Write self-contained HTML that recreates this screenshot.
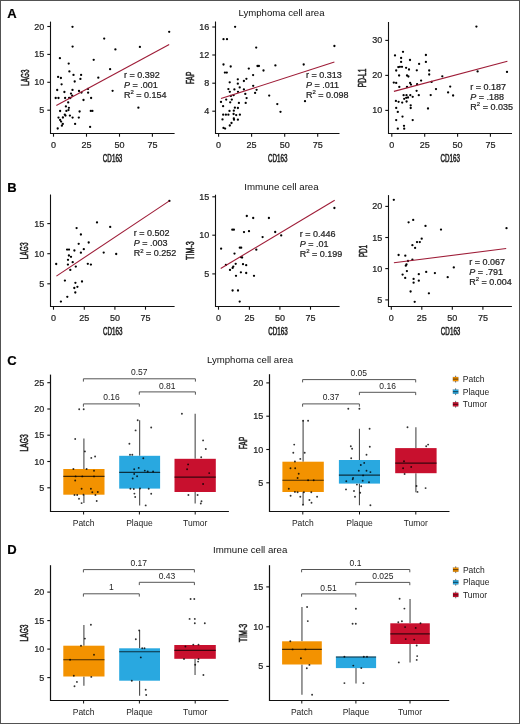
<!DOCTYPE html><html><head><meta charset="utf-8"><style>html,body{margin:0;padding:0;background:#fff;}svg{display:block;will-change:transform;}</style></head><body>
<svg width="520" height="724" viewBox="0 0 520 724" font-family='"Liberation Sans", sans-serif'>
<style>text{stroke:#222;stroke-width:0.22px;paint-order:stroke;}text.l{stroke:none;}</style>
<rect x="0" y="0" width="520" height="724" fill="#fff"/>
<rect x="0.5" y="0.5" width="519" height="723" fill="none" stroke="#525252" stroke-width="1"/>
<text x="7.2" y="17.7" font-size="13" text-anchor="start" fill="#000" font-weight="bold" >A</text>
<text x="7.2" y="191.5" font-size="13" text-anchor="start" fill="#000" font-weight="bold" >B</text>
<text x="7.2" y="364.5" font-size="13" text-anchor="start" fill="#000" font-weight="bold" >C</text>
<text x="7.2" y="554.4" font-size="13" text-anchor="start" fill="#000" font-weight="bold" >D</text>
<text x="281.5" y="16" font-size="9.6" text-anchor="middle" fill="#111" font-weight="normal" class="l" >Lymphoma cell area</text>
<text x="281.5" y="189.7" font-size="9.7" text-anchor="middle" fill="#111" font-weight="normal" class="l" >Immune cell area</text>
<text x="250" y="362.5" font-size="9.6" text-anchor="middle" fill="#111" font-weight="normal" class="l" >Lymphoma cell area</text>
<text x="250.2" y="552.7" font-size="9.7" text-anchor="middle" fill="#111" font-weight="normal" class="l" >Immune cell area</text>
<line x1="50.5" y1="21.6" x2="50.5" y2="134" stroke="#111" stroke-width="1.1" />
<line x1="50" y1="133.5" x2="174.6" y2="133.5" stroke="#111" stroke-width="1.1" />
<line x1="47.3" y1="26.5" x2="50.5" y2="26.5" stroke="#111" stroke-width="1.1" />
<text x="44.3" y="29.5" font-size="9" text-anchor="end" fill="#222" font-weight="normal" >20</text>
<line x1="47.3" y1="54.4" x2="50.5" y2="54.4" stroke="#111" stroke-width="1.1" />
<text x="44.3" y="57.4" font-size="9" text-anchor="end" fill="#222" font-weight="normal" >15</text>
<line x1="47.3" y1="82.3" x2="50.5" y2="82.3" stroke="#111" stroke-width="1.1" />
<text x="44.3" y="85.3" font-size="9" text-anchor="end" fill="#222" font-weight="normal" >10</text>
<line x1="47.3" y1="110.2" x2="50.5" y2="110.2" stroke="#111" stroke-width="1.1" />
<text x="44.3" y="113.2" font-size="9" text-anchor="end" fill="#222" font-weight="normal" >5</text>
<line x1="53.5" y1="133.5" x2="53.5" y2="136.7" stroke="#111" stroke-width="1.1" />
<text x="53.5" y="147.7" font-size="9" text-anchor="middle" fill="#222" font-weight="normal" >0</text>
<line x1="86.5" y1="133.5" x2="86.5" y2="136.7" stroke="#111" stroke-width="1.1" />
<text x="86.5" y="147.7" font-size="9" text-anchor="middle" fill="#222" font-weight="normal" >25</text>
<line x1="119.5" y1="133.5" x2="119.5" y2="136.7" stroke="#111" stroke-width="1.1" />
<text x="119.5" y="147.7" font-size="9" text-anchor="middle" fill="#222" font-weight="normal" >50</text>
<line x1="152.4" y1="133.5" x2="152.4" y2="136.7" stroke="#111" stroke-width="1.1" />
<text x="152.4" y="147.7" font-size="9" text-anchor="middle" fill="#222" font-weight="normal" >75</text>
<circle cx="72.5" cy="26.8" r="1.15" fill="#000"/>
<circle cx="104.2" cy="38.6" r="1.15" fill="#000"/>
<circle cx="72.6" cy="46.6" r="1.15" fill="#000"/>
<circle cx="59.9" cy="58.2" r="1.15" fill="#000"/>
<circle cx="93.7" cy="59.8" r="1.15" fill="#000"/>
<circle cx="68.7" cy="63.6" r="1.15" fill="#000"/>
<circle cx="69.4" cy="71.4" r="1.15" fill="#000"/>
<circle cx="110.1" cy="69.2" r="1.15" fill="#000"/>
<circle cx="73.5" cy="74.9" r="1.15" fill="#000"/>
<circle cx="81.1" cy="74.9" r="1.15" fill="#000"/>
<circle cx="58.1" cy="76.9" r="1.15" fill="#000"/>
<circle cx="60.9" cy="78" r="1.15" fill="#000"/>
<circle cx="80.4" cy="78.9" r="1.15" fill="#000"/>
<circle cx="98.3" cy="77.7" r="1.15" fill="#000"/>
<circle cx="74.7" cy="81.5" r="1.15" fill="#000"/>
<circle cx="61.6" cy="84.3" r="1.15" fill="#000"/>
<circle cx="57.2" cy="90" r="1.15" fill="#000"/>
<circle cx="72.5" cy="89.9" r="1.15" fill="#000"/>
<circle cx="64.4" cy="92" r="1.15" fill="#000"/>
<circle cx="79" cy="91" r="1.15" fill="#000"/>
<circle cx="81.5" cy="92.6" r="1.15" fill="#000"/>
<circle cx="88" cy="88.9" r="1.15" fill="#000"/>
<circle cx="88.1" cy="92.7" r="1.15" fill="#000"/>
<circle cx="112.6" cy="90.8" r="1.15" fill="#000"/>
<circle cx="71" cy="93.6" r="1.15" fill="#000"/>
<circle cx="72.2" cy="95.7" r="1.15" fill="#000"/>
<circle cx="55.7" cy="98" r="1.15" fill="#000"/>
<circle cx="58.5" cy="98" r="1.15" fill="#000"/>
<circle cx="65.1" cy="98" r="1.15" fill="#000"/>
<circle cx="69.1" cy="98" r="1.15" fill="#000"/>
<circle cx="70.3" cy="98" r="1.15" fill="#000"/>
<circle cx="91.1" cy="98" r="1.15" fill="#000"/>
<circle cx="68.2" cy="102.4" r="1.15" fill="#000"/>
<circle cx="83.5" cy="100" r="1.15" fill="#000"/>
<circle cx="65.9" cy="106.4" r="1.15" fill="#000"/>
<circle cx="68.9" cy="107.8" r="1.15" fill="#000"/>
<circle cx="60.1" cy="111" r="1.15" fill="#000"/>
<circle cx="66.4" cy="110.9" r="1.15" fill="#000"/>
<circle cx="68.5" cy="110.1" r="1.15" fill="#000"/>
<circle cx="79.6" cy="111.5" r="1.15" fill="#000"/>
<circle cx="90.8" cy="110.9" r="1.15" fill="#000"/>
<circle cx="92.4" cy="110.9" r="1.15" fill="#000"/>
<circle cx="64.8" cy="114.6" r="1.15" fill="#000"/>
<circle cx="65.5" cy="115.6" r="1.15" fill="#000"/>
<circle cx="69.9" cy="115.6" r="1.15" fill="#000"/>
<circle cx="62.9" cy="117.5" r="1.15" fill="#000"/>
<circle cx="72.6" cy="117.6" r="1.15" fill="#000"/>
<circle cx="78.8" cy="117.6" r="1.15" fill="#000"/>
<circle cx="58.5" cy="117.6" r="1.15" fill="#000"/>
<circle cx="60.1" cy="119.9" r="1.15" fill="#000"/>
<circle cx="61.1" cy="121.6" r="1.15" fill="#000"/>
<circle cx="62.8" cy="123.9" r="1.15" fill="#000"/>
<circle cx="61.9" cy="125.7" r="1.15" fill="#000"/>
<circle cx="75.1" cy="123.9" r="1.15" fill="#000"/>
<circle cx="90.1" cy="126.9" r="1.15" fill="#000"/>
<circle cx="57.7" cy="128.5" r="1.15" fill="#000"/>
<circle cx="169.2" cy="31.8" r="1.15" fill="#000"/>
<circle cx="115.4" cy="49.4" r="1.15" fill="#000"/>
<circle cx="139.9" cy="46.9" r="1.15" fill="#000"/>
<circle cx="138.4" cy="107.7" r="1.15" fill="#000"/>
<line x1="56.3" y1="105.4" x2="169.2" y2="44.5" stroke="#9E1C37" stroke-width="1.1" />
<text transform="translate(28.78,77.6) rotate(-90)" x="0" y="0" font-size="10.5" text-anchor="middle" fill="#222" font-weight="normal" textLength="16.1" lengthAdjust="spacingAndGlyphs" style="stroke-width:0.55px">LAG3</text>
<text x="102.85" y="161.58" font-size="10.5" fill="#222" font-weight="normal" textLength="19.5" lengthAdjust="spacingAndGlyphs" style="stroke-width:0.55px">CD163</text>
<text x="123.9" y="77.6" font-size="9" text-anchor="start" fill="#222" font-weight="normal" >r = 0.392</text>
<text x="123.9" y="87.6" font-size="9" fill="#222"><tspan font-style="italic">P</tspan> = .001</text>
<text x="123.9" y="97.6" font-size="9" fill="#222">R<tspan font-size="6" dy="-3.4">2</tspan><tspan dy="3.4"> = 0.154</tspan></text>
<line x1="215.5" y1="21.5" x2="215.5" y2="134" stroke="#111" stroke-width="1.1" />
<line x1="215" y1="133.5" x2="339.5" y2="133.5" stroke="#111" stroke-width="1.1" />
<line x1="212.3" y1="27" x2="215.5" y2="27" stroke="#111" stroke-width="1.1" />
<text x="209.3" y="30" font-size="9" text-anchor="end" fill="#222" font-weight="normal" >16</text>
<line x1="212.3" y1="55" x2="215.5" y2="55" stroke="#111" stroke-width="1.1" />
<text x="209.3" y="58" font-size="9" text-anchor="end" fill="#222" font-weight="normal" >12</text>
<line x1="212.3" y1="83.2" x2="215.5" y2="83.2" stroke="#111" stroke-width="1.1" />
<text x="209.3" y="86.2" font-size="9" text-anchor="end" fill="#222" font-weight="normal" >8</text>
<line x1="212.3" y1="111.2" x2="215.5" y2="111.2" stroke="#111" stroke-width="1.1" />
<text x="209.3" y="114.2" font-size="9" text-anchor="end" fill="#222" font-weight="normal" >4</text>
<line x1="218.6" y1="133.5" x2="218.6" y2="136.7" stroke="#111" stroke-width="1.1" />
<text x="218.6" y="147.7" font-size="9" text-anchor="middle" fill="#222" font-weight="normal" >0</text>
<line x1="251.6" y1="133.5" x2="251.6" y2="136.7" stroke="#111" stroke-width="1.1" />
<text x="251.6" y="147.7" font-size="9" text-anchor="middle" fill="#222" font-weight="normal" >25</text>
<line x1="284.7" y1="133.5" x2="284.7" y2="136.7" stroke="#111" stroke-width="1.1" />
<text x="284.7" y="147.7" font-size="9" text-anchor="middle" fill="#222" font-weight="normal" >50</text>
<line x1="317.7" y1="133.5" x2="317.7" y2="136.7" stroke="#111" stroke-width="1.1" />
<text x="317.7" y="147.7" font-size="9" text-anchor="middle" fill="#222" font-weight="normal" >75</text>
<circle cx="235.1" cy="26.8" r="1.15" fill="#000"/>
<circle cx="223.5" cy="39.2" r="1.15" fill="#000"/>
<circle cx="227" cy="39.2" r="1.15" fill="#000"/>
<circle cx="256.2" cy="47.6" r="1.15" fill="#000"/>
<circle cx="223.5" cy="64.5" r="1.15" fill="#000"/>
<circle cx="230.7" cy="66.5" r="1.15" fill="#000"/>
<circle cx="257.5" cy="66" r="1.15" fill="#000"/>
<circle cx="258.9" cy="66" r="1.15" fill="#000"/>
<circle cx="224.9" cy="72.6" r="1.15" fill="#000"/>
<circle cx="226.8" cy="72.6" r="1.15" fill="#000"/>
<circle cx="248.8" cy="68.6" r="1.15" fill="#000"/>
<circle cx="263.5" cy="70.5" r="1.15" fill="#000"/>
<circle cx="253.1" cy="75.1" r="1.15" fill="#000"/>
<circle cx="237.8" cy="79.3" r="1.15" fill="#000"/>
<circle cx="246.4" cy="78.8" r="1.15" fill="#000"/>
<circle cx="243.9" cy="81" r="1.15" fill="#000"/>
<circle cx="229.7" cy="82.3" r="1.15" fill="#000"/>
<circle cx="237.8" cy="83.7" r="1.15" fill="#000"/>
<circle cx="253.2" cy="85.8" r="1.15" fill="#000"/>
<circle cx="239.7" cy="87.4" r="1.15" fill="#000"/>
<circle cx="228.4" cy="89.1" r="1.15" fill="#000"/>
<circle cx="234.4" cy="89.4" r="1.15" fill="#000"/>
<circle cx="243.9" cy="89.4" r="1.15" fill="#000"/>
<circle cx="229.8" cy="91.8" r="1.15" fill="#000"/>
<circle cx="238" cy="91.8" r="1.15" fill="#000"/>
<circle cx="256.6" cy="89.8" r="1.15" fill="#000"/>
<circle cx="255.1" cy="92.9" r="1.15" fill="#000"/>
<circle cx="245.3" cy="93.9" r="1.15" fill="#000"/>
<circle cx="233.6" cy="95.2" r="1.15" fill="#000"/>
<circle cx="230.9" cy="95.9" r="1.15" fill="#000"/>
<circle cx="269.2" cy="95.6" r="1.15" fill="#000"/>
<circle cx="246.6" cy="98.1" r="1.15" fill="#000"/>
<circle cx="226.2" cy="99.6" r="1.15" fill="#000"/>
<circle cx="231.8" cy="99.6" r="1.15" fill="#000"/>
<circle cx="221" cy="101.9" r="1.15" fill="#000"/>
<circle cx="230.2" cy="102.3" r="1.15" fill="#000"/>
<circle cx="238.9" cy="102.9" r="1.15" fill="#000"/>
<circle cx="245.7" cy="102.9" r="1.15" fill="#000"/>
<circle cx="277.3" cy="104.1" r="1.15" fill="#000"/>
<circle cx="223.1" cy="106.2" r="1.15" fill="#000"/>
<circle cx="234.9" cy="107.7" r="1.15" fill="#000"/>
<circle cx="237.9" cy="108" r="1.15" fill="#000"/>
<circle cx="229.5" cy="110.9" r="1.15" fill="#000"/>
<circle cx="233.8" cy="110.7" r="1.15" fill="#000"/>
<circle cx="280.5" cy="111.8" r="1.15" fill="#000"/>
<circle cx="223.2" cy="114.7" r="1.15" fill="#000"/>
<circle cx="225.9" cy="114.7" r="1.15" fill="#000"/>
<circle cx="228.4" cy="114.7" r="1.15" fill="#000"/>
<circle cx="233.6" cy="114" r="1.15" fill="#000"/>
<circle cx="236.2" cy="115.1" r="1.15" fill="#000"/>
<circle cx="239.9" cy="114.7" r="1.15" fill="#000"/>
<circle cx="222.5" cy="119.4" r="1.15" fill="#000"/>
<circle cx="233.8" cy="118.3" r="1.15" fill="#000"/>
<circle cx="234" cy="119.7" r="1.15" fill="#000"/>
<circle cx="237.9" cy="119.7" r="1.15" fill="#000"/>
<circle cx="231.5" cy="123" r="1.15" fill="#000"/>
<circle cx="229.8" cy="125.5" r="1.15" fill="#000"/>
<circle cx="223.5" cy="127.9" r="1.15" fill="#000"/>
<circle cx="225.1" cy="128.6" r="1.15" fill="#000"/>
<circle cx="334.4" cy="46" r="1.15" fill="#000"/>
<circle cx="275.4" cy="65.4" r="1.15" fill="#000"/>
<circle cx="303.7" cy="64.5" r="1.15" fill="#000"/>
<circle cx="305" cy="101.2" r="1.15" fill="#000"/>
<line x1="221" y1="98.6" x2="334.4" y2="62.1" stroke="#9E1C37" stroke-width="1.1" />
<text transform="translate(193.68,77.9) rotate(-90)" x="0" y="0" font-size="10.5" text-anchor="middle" fill="#222" font-weight="normal" textLength="12.4" lengthAdjust="spacingAndGlyphs" style="stroke-width:0.55px">FAP</text>
<text x="267.95" y="161.58" font-size="10.5" fill="#222" font-weight="normal" textLength="19.5" lengthAdjust="spacingAndGlyphs" style="stroke-width:0.55px">CD163</text>
<text x="306" y="77.8" font-size="9" text-anchor="start" fill="#222" font-weight="normal" >r = 0.313</text>
<text x="306" y="87.8" font-size="9" fill="#222"><tspan font-style="italic">P</tspan> = .011</text>
<text x="306" y="97.8" font-size="9" fill="#222">R<tspan font-size="6" dy="-3.4">2</tspan><tspan dy="3.4"> = 0.098</tspan></text>
<line x1="388.5" y1="22" x2="388.5" y2="134" stroke="#111" stroke-width="1.1" />
<line x1="388" y1="133.5" x2="512" y2="133.5" stroke="#111" stroke-width="1.1" />
<line x1="385.3" y1="40.4" x2="388.5" y2="40.4" stroke="#111" stroke-width="1.1" />
<text x="382.3" y="43.4" font-size="9" text-anchor="end" fill="#222" font-weight="normal" >30</text>
<line x1="385.3" y1="75.4" x2="388.5" y2="75.4" stroke="#111" stroke-width="1.1" />
<text x="382.3" y="78.4" font-size="9" text-anchor="end" fill="#222" font-weight="normal" >20</text>
<line x1="385.3" y1="110.4" x2="388.5" y2="110.4" stroke="#111" stroke-width="1.1" />
<text x="382.3" y="113.4" font-size="9" text-anchor="end" fill="#222" font-weight="normal" >10</text>
<line x1="391.8" y1="133.5" x2="391.8" y2="136.7" stroke="#111" stroke-width="1.1" />
<text x="391.8" y="147.7" font-size="9" text-anchor="middle" fill="#222" font-weight="normal" >0</text>
<line x1="424.7" y1="133.5" x2="424.7" y2="136.7" stroke="#111" stroke-width="1.1" />
<text x="424.7" y="147.7" font-size="9" text-anchor="middle" fill="#222" font-weight="normal" >25</text>
<line x1="457.6" y1="133.5" x2="457.6" y2="136.7" stroke="#111" stroke-width="1.1" />
<text x="457.6" y="147.7" font-size="9" text-anchor="middle" fill="#222" font-weight="normal" >50</text>
<line x1="490.4" y1="133.5" x2="490.4" y2="136.7" stroke="#111" stroke-width="1.1" />
<text x="490.4" y="147.7" font-size="9" text-anchor="middle" fill="#222" font-weight="normal" >75</text>
<circle cx="403" cy="51.8" r="1.15" fill="#000"/>
<circle cx="395" cy="55.4" r="1.15" fill="#000"/>
<circle cx="425.9" cy="55" r="1.15" fill="#000"/>
<circle cx="401.1" cy="58" r="1.15" fill="#000"/>
<circle cx="410" cy="60" r="1.15" fill="#000"/>
<circle cx="401.1" cy="61.9" r="1.15" fill="#000"/>
<circle cx="425.9" cy="61.9" r="1.15" fill="#000"/>
<circle cx="419.1" cy="63.9" r="1.15" fill="#000"/>
<circle cx="398.3" cy="67.1" r="1.15" fill="#000"/>
<circle cx="399.9" cy="66.8" r="1.15" fill="#000"/>
<circle cx="402" cy="66.8" r="1.15" fill="#000"/>
<circle cx="406.1" cy="67.8" r="1.15" fill="#000"/>
<circle cx="396.2" cy="70.5" r="1.15" fill="#000"/>
<circle cx="409" cy="69.5" r="1.15" fill="#000"/>
<circle cx="416.8" cy="70.3" r="1.15" fill="#000"/>
<circle cx="429.2" cy="70.5" r="1.15" fill="#000"/>
<circle cx="399.1" cy="75.5" r="1.15" fill="#000"/>
<circle cx="407" cy="75.5" r="1.15" fill="#000"/>
<circle cx="408.4" cy="76.5" r="1.15" fill="#000"/>
<circle cx="429.2" cy="74.5" r="1.15" fill="#000"/>
<circle cx="421.1" cy="80.6" r="1.15" fill="#000"/>
<circle cx="393.8" cy="82.6" r="1.15" fill="#000"/>
<circle cx="396.2" cy="82.9" r="1.15" fill="#000"/>
<circle cx="410.1" cy="83" r="1.15" fill="#000"/>
<circle cx="411" cy="84.6" r="1.15" fill="#000"/>
<circle cx="417.1" cy="84.2" r="1.15" fill="#000"/>
<circle cx="431.6" cy="81.9" r="1.15" fill="#000"/>
<circle cx="399.3" cy="86.9" r="1.15" fill="#000"/>
<circle cx="407" cy="86.9" r="1.15" fill="#000"/>
<circle cx="436" cy="89.1" r="1.15" fill="#000"/>
<circle cx="448.1" cy="92.4" r="1.15" fill="#000"/>
<circle cx="450.2" cy="86.6" r="1.15" fill="#000"/>
<circle cx="416.6" cy="90.8" r="1.15" fill="#000"/>
<circle cx="403.6" cy="95.2" r="1.15" fill="#000"/>
<circle cx="406.5" cy="95.2" r="1.15" fill="#000"/>
<circle cx="410.3" cy="95.2" r="1.15" fill="#000"/>
<circle cx="412.7" cy="96.8" r="1.15" fill="#000"/>
<circle cx="418.8" cy="95.2" r="1.15" fill="#000"/>
<circle cx="430.7" cy="95.1" r="1.15" fill="#000"/>
<circle cx="404.2" cy="98.8" r="1.15" fill="#000"/>
<circle cx="406.2" cy="97.8" r="1.15" fill="#000"/>
<circle cx="408" cy="97.5" r="1.15" fill="#000"/>
<circle cx="395.9" cy="100.9" r="1.15" fill="#000"/>
<circle cx="398.6" cy="101.8" r="1.15" fill="#000"/>
<circle cx="402.2" cy="102.6" r="1.15" fill="#000"/>
<circle cx="406.6" cy="101.5" r="1.15" fill="#000"/>
<circle cx="410.7" cy="105.3" r="1.15" fill="#000"/>
<circle cx="410.7" cy="108" r="1.15" fill="#000"/>
<circle cx="396.2" cy="107.9" r="1.15" fill="#000"/>
<circle cx="428" cy="108.5" r="1.15" fill="#000"/>
<circle cx="397.8" cy="111.9" r="1.15" fill="#000"/>
<circle cx="402.5" cy="116.6" r="1.15" fill="#000"/>
<circle cx="396.2" cy="120.1" r="1.15" fill="#000"/>
<circle cx="412.7" cy="120.1" r="1.15" fill="#000"/>
<circle cx="404" cy="125.8" r="1.15" fill="#000"/>
<circle cx="404.2" cy="128.7" r="1.15" fill="#000"/>
<circle cx="397.8" cy="128.7" r="1.15" fill="#000"/>
<circle cx="476.4" cy="26.6" r="1.15" fill="#000"/>
<circle cx="477.6" cy="71.4" r="1.15" fill="#000"/>
<circle cx="507" cy="71.9" r="1.15" fill="#000"/>
<circle cx="442.3" cy="76.3" r="1.15" fill="#000"/>
<circle cx="453.1" cy="95.5" r="1.15" fill="#000"/>
<line x1="393.9" y1="91.4" x2="507.4" y2="61.2" stroke="#9E1C37" stroke-width="1.1" />
<text transform="translate(366.48,77.9) rotate(-90)" x="0" y="0" font-size="10.5" text-anchor="middle" fill="#222" font-weight="normal" textLength="18.7" lengthAdjust="spacingAndGlyphs" style="stroke-width:0.55px">PD-L1</text>
<text x="440.55" y="161.58" font-size="10.5" fill="#222" font-weight="normal" textLength="19.5" lengthAdjust="spacingAndGlyphs" style="stroke-width:0.55px">CD163</text>
<text x="470.3" y="89.8" font-size="9" text-anchor="start" fill="#222" font-weight="normal" >r = 0.187</text>
<text x="470.3" y="99.8" font-size="9" fill="#222"><tspan font-style="italic">P</tspan> = .188</text>
<text x="470.3" y="109.8" font-size="9" fill="#222">R<tspan font-size="6" dy="-3.4">2</tspan><tspan dy="3.4"> = 0.035</tspan></text>
<line x1="50.5" y1="194.5" x2="50.5" y2="307" stroke="#111" stroke-width="1.1" />
<line x1="50" y1="306.5" x2="174.6" y2="306.5" stroke="#111" stroke-width="1.1" />
<line x1="47.3" y1="223.6" x2="50.5" y2="223.6" stroke="#111" stroke-width="1.1" />
<text x="44.3" y="226.6" font-size="9" text-anchor="end" fill="#222" font-weight="normal" >15</text>
<line x1="47.3" y1="253.7" x2="50.5" y2="253.7" stroke="#111" stroke-width="1.1" />
<text x="44.3" y="256.7" font-size="9" text-anchor="end" fill="#222" font-weight="normal" >10</text>
<line x1="47.3" y1="283.8" x2="50.5" y2="283.8" stroke="#111" stroke-width="1.1" />
<text x="44.3" y="286.8" font-size="9" text-anchor="end" fill="#222" font-weight="normal" >5</text>
<line x1="53.5" y1="306.5" x2="53.5" y2="309.7" stroke="#111" stroke-width="1.1" />
<text x="53.5" y="320.8" font-size="9" text-anchor="middle" fill="#222" font-weight="normal" >0</text>
<line x1="84.3" y1="306.5" x2="84.3" y2="309.7" stroke="#111" stroke-width="1.1" />
<text x="84.3" y="320.8" font-size="9" text-anchor="middle" fill="#222" font-weight="normal" >25</text>
<line x1="114.9" y1="306.5" x2="114.9" y2="309.7" stroke="#111" stroke-width="1.1" />
<text x="114.9" y="320.8" font-size="9" text-anchor="middle" fill="#222" font-weight="normal" >50</text>
<line x1="145.5" y1="306.5" x2="145.5" y2="309.7" stroke="#111" stroke-width="1.1" />
<text x="145.5" y="320.8" font-size="9" text-anchor="middle" fill="#222" font-weight="normal" >75</text>
<circle cx="97" cy="222.4" r="1.15" fill="#000"/>
<circle cx="76.6" cy="228.1" r="1.15" fill="#000"/>
<circle cx="80.9" cy="234.5" r="1.15" fill="#000"/>
<circle cx="78.7" cy="243.8" r="1.15" fill="#000"/>
<circle cx="88.7" cy="242.5" r="1.15" fill="#000"/>
<circle cx="67.1" cy="249.6" r="1.15" fill="#000"/>
<circle cx="69" cy="249.6" r="1.15" fill="#000"/>
<circle cx="74.4" cy="250.5" r="1.15" fill="#000"/>
<circle cx="83.8" cy="249.2" r="1.15" fill="#000"/>
<circle cx="80.9" cy="252.7" r="1.15" fill="#000"/>
<circle cx="103.7" cy="252.6" r="1.15" fill="#000"/>
<circle cx="68.9" cy="255.5" r="1.15" fill="#000"/>
<circle cx="71" cy="256.8" r="1.15" fill="#000"/>
<circle cx="68" cy="259.8" r="1.15" fill="#000"/>
<circle cx="72.7" cy="262.2" r="1.15" fill="#000"/>
<circle cx="56.2" cy="264" r="1.15" fill="#000"/>
<circle cx="67.9" cy="264.6" r="1.15" fill="#000"/>
<circle cx="87.8" cy="263.8" r="1.15" fill="#000"/>
<circle cx="90.9" cy="264.6" r="1.15" fill="#000"/>
<circle cx="75.8" cy="266.6" r="1.15" fill="#000"/>
<circle cx="70.3" cy="269.9" r="1.15" fill="#000"/>
<circle cx="64.9" cy="280.6" r="1.15" fill="#000"/>
<circle cx="82" cy="281.5" r="1.15" fill="#000"/>
<circle cx="75.4" cy="282.8" r="1.15" fill="#000"/>
<circle cx="77.4" cy="286.8" r="1.15" fill="#000"/>
<circle cx="74.3" cy="288" r="1.15" fill="#000"/>
<circle cx="75.3" cy="292.5" r="1.15" fill="#000"/>
<circle cx="67.3" cy="296.8" r="1.15" fill="#000"/>
<circle cx="60.9" cy="301.6" r="1.15" fill="#000"/>
<circle cx="169.4" cy="200.9" r="1.15" fill="#000"/>
<circle cx="110.2" cy="226.9" r="1.15" fill="#000"/>
<circle cx="116.2" cy="254" r="1.15" fill="#000"/>
<line x1="56.4" y1="276.1" x2="169.4" y2="200.9" stroke="#9E1C37" stroke-width="1.1" />
<text transform="translate(28.48,250.8) rotate(-90)" x="0" y="0" font-size="10.5" text-anchor="middle" fill="#222" font-weight="normal" textLength="16.8" lengthAdjust="spacingAndGlyphs" style="stroke-width:0.55px">LAG3</text>
<text x="103.05" y="334.98" font-size="10.5" fill="#222" font-weight="normal" textLength="19.5" lengthAdjust="spacingAndGlyphs" style="stroke-width:0.55px">CD163</text>
<text x="133.7" y="236.4" font-size="9" text-anchor="start" fill="#222" font-weight="normal" >r = 0.502</text>
<text x="133.7" y="246.4" font-size="9" fill="#222"><tspan font-style="italic">P</tspan> = .003</text>
<text x="133.7" y="256.4" font-size="9" fill="#222">R<tspan font-size="6" dy="-3.4">2</tspan><tspan dy="3.4"> = 0.252</tspan></text>
<line x1="215.5" y1="194.7" x2="215.5" y2="307" stroke="#111" stroke-width="1.1" />
<line x1="215" y1="306.5" x2="339.6" y2="306.5" stroke="#111" stroke-width="1.1" />
<line x1="212.3" y1="196.8" x2="215.5" y2="196.8" stroke="#111" stroke-width="1.1" />
<text x="209.3" y="199.8" font-size="9" text-anchor="end" fill="#222" font-weight="normal" >15</text>
<line x1="212.3" y1="235.2" x2="215.5" y2="235.2" stroke="#111" stroke-width="1.1" />
<text x="209.3" y="238.2" font-size="9" text-anchor="end" fill="#222" font-weight="normal" >10</text>
<line x1="212.3" y1="273.9" x2="215.5" y2="273.9" stroke="#111" stroke-width="1.1" />
<text x="209.3" y="276.9" font-size="9" text-anchor="end" fill="#222" font-weight="normal" >5</text>
<line x1="218.5" y1="306.5" x2="218.5" y2="309.7" stroke="#111" stroke-width="1.1" />
<text x="218.5" y="320.8" font-size="9" text-anchor="middle" fill="#222" font-weight="normal" >0</text>
<line x1="249.4" y1="306.5" x2="249.4" y2="309.7" stroke="#111" stroke-width="1.1" />
<text x="249.4" y="320.8" font-size="9" text-anchor="middle" fill="#222" font-weight="normal" >25</text>
<line x1="279.9" y1="306.5" x2="279.9" y2="309.7" stroke="#111" stroke-width="1.1" />
<text x="279.9" y="320.8" font-size="9" text-anchor="middle" fill="#222" font-weight="normal" >50</text>
<line x1="310.5" y1="306.5" x2="310.5" y2="309.7" stroke="#111" stroke-width="1.1" />
<text x="310.5" y="320.8" font-size="9" text-anchor="middle" fill="#222" font-weight="normal" >75</text>
<circle cx="246.8" cy="216" r="1.15" fill="#000"/>
<circle cx="253.2" cy="218" r="1.15" fill="#000"/>
<circle cx="268.9" cy="218" r="1.15" fill="#000"/>
<circle cx="232.3" cy="229.7" r="1.15" fill="#000"/>
<circle cx="233.9" cy="229.7" r="1.15" fill="#000"/>
<circle cx="244" cy="232.1" r="1.15" fill="#000"/>
<circle cx="249" cy="231.2" r="1.15" fill="#000"/>
<circle cx="262.6" cy="237.1" r="1.15" fill="#000"/>
<circle cx="221.1" cy="248.7" r="1.15" fill="#000"/>
<circle cx="239.8" cy="247.7" r="1.15" fill="#000"/>
<circle cx="241.2" cy="247.7" r="1.15" fill="#000"/>
<circle cx="256.3" cy="249.7" r="1.15" fill="#000"/>
<circle cx="234.5" cy="253.6" r="1.15" fill="#000"/>
<circle cx="241.1" cy="257.2" r="1.15" fill="#000"/>
<circle cx="242.1" cy="257.5" r="1.15" fill="#000"/>
<circle cx="225.9" cy="264.9" r="1.15" fill="#000"/>
<circle cx="235.7" cy="263.8" r="1.15" fill="#000"/>
<circle cx="243" cy="264.2" r="1.15" fill="#000"/>
<circle cx="246.2" cy="265.2" r="1.15" fill="#000"/>
<circle cx="233.3" cy="266.6" r="1.15" fill="#000"/>
<circle cx="232.6" cy="267.9" r="1.15" fill="#000"/>
<circle cx="230" cy="269.9" r="1.15" fill="#000"/>
<circle cx="240.9" cy="272.3" r="1.15" fill="#000"/>
<circle cx="246.2" cy="273" r="1.15" fill="#000"/>
<circle cx="236" cy="275.8" r="1.15" fill="#000"/>
<circle cx="254" cy="275.8" r="1.15" fill="#000"/>
<circle cx="232.6" cy="290.5" r="1.15" fill="#000"/>
<circle cx="238" cy="290.5" r="1.15" fill="#000"/>
<circle cx="239.7" cy="301.6" r="1.15" fill="#000"/>
<circle cx="334.4" cy="208" r="1.15" fill="#000"/>
<circle cx="275.2" cy="232" r="1.15" fill="#000"/>
<circle cx="281.2" cy="235.4" r="1.15" fill="#000"/>
<line x1="220.7" y1="268.5" x2="334.7" y2="200.3" stroke="#9E1C37" stroke-width="1.1" />
<text transform="translate(194.08,250.6) rotate(-90)" x="0" y="0" font-size="10.5" text-anchor="middle" fill="#222" font-weight="normal" textLength="18.6" lengthAdjust="spacingAndGlyphs" style="stroke-width:0.55px">TIM-3</text>
<text x="268.25" y="334.98" font-size="10.5" fill="#222" font-weight="normal" textLength="19.5" lengthAdjust="spacingAndGlyphs" style="stroke-width:0.55px">CD163</text>
<text x="299.7" y="236.6" font-size="9" text-anchor="start" fill="#222" font-weight="normal" >r = 0.446</text>
<text x="299.7" y="246.6" font-size="9" fill="#222"><tspan font-style="italic">P</tspan> = .01</text>
<text x="299.7" y="256.6" font-size="9" fill="#222">R<tspan font-size="6" dy="-3.4">2</tspan><tspan dy="3.4"> = 0.199</tspan></text>
<line x1="388.5" y1="195.1" x2="388.5" y2="307" stroke="#111" stroke-width="1.1" />
<line x1="388" y1="306.5" x2="511.9" y2="306.5" stroke="#111" stroke-width="1.1" />
<line x1="385.3" y1="206.4" x2="388.5" y2="206.4" stroke="#111" stroke-width="1.1" />
<text x="382.3" y="209.4" font-size="9" text-anchor="end" fill="#222" font-weight="normal" >20</text>
<line x1="385.3" y1="237.5" x2="388.5" y2="237.5" stroke="#111" stroke-width="1.1" />
<text x="382.3" y="240.5" font-size="9" text-anchor="end" fill="#222" font-weight="normal" >15</text>
<line x1="385.3" y1="268.6" x2="388.5" y2="268.6" stroke="#111" stroke-width="1.1" />
<text x="382.3" y="271.6" font-size="9" text-anchor="end" fill="#222" font-weight="normal" >10</text>
<line x1="385.3" y1="299.9" x2="388.5" y2="299.9" stroke="#111" stroke-width="1.1" />
<text x="382.3" y="302.9" font-size="9" text-anchor="end" fill="#222" font-weight="normal" >5</text>
<line x1="391.3" y1="306.5" x2="391.3" y2="309.7" stroke="#111" stroke-width="1.1" />
<text x="391.3" y="320.8" font-size="9" text-anchor="middle" fill="#222" font-weight="normal" >0</text>
<line x1="421.8" y1="306.5" x2="421.8" y2="309.7" stroke="#111" stroke-width="1.1" />
<text x="421.8" y="320.8" font-size="9" text-anchor="middle" fill="#222" font-weight="normal" >25</text>
<line x1="452.3" y1="306.5" x2="452.3" y2="309.7" stroke="#111" stroke-width="1.1" />
<text x="452.3" y="320.8" font-size="9" text-anchor="middle" fill="#222" font-weight="normal" >50</text>
<line x1="482.9" y1="306.5" x2="482.9" y2="309.7" stroke="#111" stroke-width="1.1" />
<text x="482.9" y="320.8" font-size="9" text-anchor="middle" fill="#222" font-weight="normal" >75</text>
<circle cx="393.8" cy="199.8" r="1.15" fill="#000"/>
<circle cx="408.6" cy="222.3" r="1.15" fill="#000"/>
<circle cx="413.2" cy="219.9" r="1.15" fill="#000"/>
<circle cx="425.5" cy="225.9" r="1.15" fill="#000"/>
<circle cx="441" cy="229.6" r="1.15" fill="#000"/>
<circle cx="421.7" cy="238.7" r="1.15" fill="#000"/>
<circle cx="417" cy="242.1" r="1.15" fill="#000"/>
<circle cx="419.8" cy="242.1" r="1.15" fill="#000"/>
<circle cx="412.4" cy="245.2" r="1.15" fill="#000"/>
<circle cx="415.1" cy="247.9" r="1.15" fill="#000"/>
<circle cx="398.6" cy="255" r="1.15" fill="#000"/>
<circle cx="405.3" cy="255.7" r="1.15" fill="#000"/>
<circle cx="412.4" cy="259.6" r="1.15" fill="#000"/>
<circle cx="408" cy="261" r="1.15" fill="#000"/>
<circle cx="406.5" cy="264.5" r="1.15" fill="#000"/>
<circle cx="405.8" cy="265.7" r="1.15" fill="#000"/>
<circle cx="406.9" cy="271.1" r="1.15" fill="#000"/>
<circle cx="402.6" cy="274.6" r="1.15" fill="#000"/>
<circle cx="405.2" cy="277.9" r="1.15" fill="#000"/>
<circle cx="418.8" cy="274.2" r="1.15" fill="#000"/>
<circle cx="426.2" cy="271.9" r="1.15" fill="#000"/>
<circle cx="434.9" cy="273.1" r="1.15" fill="#000"/>
<circle cx="447.7" cy="277.2" r="1.15" fill="#000"/>
<circle cx="413.6" cy="278.9" r="1.15" fill="#000"/>
<circle cx="413.6" cy="282.7" r="1.15" fill="#000"/>
<circle cx="418.8" cy="280.7" r="1.15" fill="#000"/>
<circle cx="410.6" cy="291.5" r="1.15" fill="#000"/>
<circle cx="428.9" cy="293.3" r="1.15" fill="#000"/>
<circle cx="414.7" cy="301.8" r="1.15" fill="#000"/>
<circle cx="506.5" cy="228.2" r="1.15" fill="#000"/>
<circle cx="453.8" cy="267.4" r="1.15" fill="#000"/>
<line x1="393.9" y1="262.8" x2="506.2" y2="248.5" stroke="#9E1C37" stroke-width="1.1" />
<text transform="translate(366.58,251) rotate(-90)" x="0" y="0" font-size="10.5" text-anchor="middle" fill="#222" font-weight="normal" textLength="12.2" lengthAdjust="spacingAndGlyphs" style="stroke-width:0.55px">PD1</text>
<text x="440.85" y="334.98" font-size="10.5" fill="#222" font-weight="normal" textLength="19.5" lengthAdjust="spacingAndGlyphs" style="stroke-width:0.55px">CD163</text>
<text x="469.2" y="264.6" font-size="9" text-anchor="start" fill="#222" font-weight="normal" >r = 0.067</text>
<text x="469.2" y="274.6" font-size="9" fill="#222"><tspan font-style="italic">P</tspan> = .791</text>
<text x="469.2" y="284.6" font-size="9" fill="#222">R<tspan font-size="6" dy="-3.4">2</tspan><tspan dy="3.4"> = 0.004</tspan></text>
<line x1="50.5" y1="374.6" x2="50.5" y2="512" stroke="#111" stroke-width="1.2" />
<line x1="50" y1="511.5" x2="228.9" y2="511.5" stroke="#111" stroke-width="1.2" />
<line x1="47.3" y1="382.7" x2="50.5" y2="382.7" stroke="#111" stroke-width="1.1" />
<text x="44.3" y="385.7" font-size="9" text-anchor="end" fill="#222" font-weight="normal" >25</text>
<line x1="47.3" y1="409" x2="50.5" y2="409" stroke="#111" stroke-width="1.1" />
<text x="44.3" y="412" font-size="9" text-anchor="end" fill="#222" font-weight="normal" >20</text>
<line x1="47.3" y1="435.2" x2="50.5" y2="435.2" stroke="#111" stroke-width="1.1" />
<text x="44.3" y="438.2" font-size="9" text-anchor="end" fill="#222" font-weight="normal" >15</text>
<line x1="47.3" y1="461.5" x2="50.5" y2="461.5" stroke="#111" stroke-width="1.1" />
<text x="44.3" y="464.5" font-size="9" text-anchor="end" fill="#222" font-weight="normal" >10</text>
<line x1="47.3" y1="487.8" x2="50.5" y2="487.8" stroke="#111" stroke-width="1.1" />
<text x="44.3" y="490.8" font-size="9" text-anchor="end" fill="#222" font-weight="normal" >5</text>
<line x1="83.6" y1="511.5" x2="83.6" y2="514.5" stroke="#111" stroke-width="1.0" />
<text x="83.6" y="525.9" font-size="8.5" text-anchor="middle" fill="#222" font-weight="normal" class="l" >Patch</text>
<line x1="139.4" y1="511.5" x2="139.4" y2="514.5" stroke="#111" stroke-width="1.0" />
<text x="139.4" y="525.9" font-size="8.5" text-anchor="middle" fill="#222" font-weight="normal" class="l" >Plaque</text>
<line x1="195.2" y1="511.5" x2="195.2" y2="514.5" stroke="#111" stroke-width="1.0" />
<text x="195.2" y="525.9" font-size="8.5" text-anchor="middle" fill="#222" font-weight="normal" class="l" >Tumor</text>
<text transform="translate(28.38,442.9) rotate(-90)" x="0" y="0" font-size="10.5" text-anchor="middle" fill="#222" font-weight="normal" textLength="17.1" lengthAdjust="spacingAndGlyphs" style="stroke-width:0.55px">LAG3</text>
<path d="M83.4 381.6V378.8H195.4V381.6" fill="none" stroke="#555" stroke-width="1"/>
<text x="139.2" y="375.3" font-size="8.5" text-anchor="middle" fill="#222" font-weight="normal" class="l" >0.57</text>
<path d="M139.3 394.7V391.9H195.4V394.7" fill="none" stroke="#555" stroke-width="1"/>
<text x="167.3" y="388.6" font-size="8.5" text-anchor="middle" fill="#222" font-weight="normal" class="l" >0.81</text>
<path d="M83.4 406.7V403.9H139.3V406.7" fill="none" stroke="#555" stroke-width="1"/>
<text x="111.5" y="400.3" font-size="8.5" text-anchor="middle" fill="#222" font-weight="normal" class="l" >0.16</text>
<line x1="83.9" y1="438.5" x2="83.9" y2="469" stroke="#4a4a4a" stroke-width="1.1" />
<line x1="83.9" y1="494.7" x2="83.9" y2="503" stroke="#4a4a4a" stroke-width="1.1" />
<rect x="63.3" y="469" width="41.2" height="25.7" fill="#F39200"/>
<line x1="63.3" y1="476.3" x2="104.5" y2="476.3" stroke="rgba(0,0,0,0.72)" stroke-width="1.15" />
<circle cx="79.2" cy="409.2" r="0.95" fill="rgba(0,0,0,0.8)"/>
<circle cx="83.7" cy="409.2" r="0.95" fill="rgba(0,0,0,0.8)"/>
<circle cx="75.2" cy="439" r="0.95" fill="rgba(0,0,0,0.8)"/>
<circle cx="84.9" cy="451.4" r="0.95" fill="rgba(0,0,0,0.8)"/>
<circle cx="91.3" cy="457.9" r="0.95" fill="rgba(0,0,0,0.8)"/>
<circle cx="95.1" cy="456.5" r="0.95" fill="rgba(0,0,0,0.8)"/>
<circle cx="73.4" cy="469" r="0.95" fill="rgba(0,0,0,0.8)"/>
<circle cx="86.6" cy="469" r="0.95" fill="rgba(0,0,0,0.8)"/>
<circle cx="94" cy="470.8" r="0.95" fill="rgba(0,0,0,0.8)"/>
<circle cx="75.6" cy="476.4" r="0.95" fill="rgba(0,0,0,0.8)"/>
<circle cx="82.3" cy="476.4" r="0.95" fill="rgba(0,0,0,0.8)"/>
<circle cx="94" cy="476.4" r="0.95" fill="rgba(0,0,0,0.8)"/>
<circle cx="75.2" cy="480.5" r="0.95" fill="rgba(0,0,0,0.8)"/>
<circle cx="81.6" cy="488.7" r="0.95" fill="rgba(0,0,0,0.8)"/>
<circle cx="90.9" cy="488.7" r="0.95" fill="rgba(0,0,0,0.8)"/>
<circle cx="92.3" cy="492.3" r="0.95" fill="rgba(0,0,0,0.8)"/>
<circle cx="97.8" cy="492" r="0.95" fill="rgba(0,0,0,0.8)"/>
<circle cx="74.5" cy="495" r="0.95" fill="rgba(0,0,0,0.8)"/>
<circle cx="77.2" cy="495" r="0.95" fill="rgba(0,0,0,0.8)"/>
<circle cx="83.5" cy="494.7" r="0.95" fill="rgba(0,0,0,0.8)"/>
<circle cx="95.4" cy="495" r="0.95" fill="rgba(0,0,0,0.8)"/>
<circle cx="79" cy="498.8" r="0.95" fill="rgba(0,0,0,0.8)"/>
<circle cx="81.6" cy="503.1" r="0.95" fill="rgba(0,0,0,0.8)"/>
<circle cx="96.7" cy="501" r="0.95" fill="rgba(0,0,0,0.8)"/>
<line x1="139.65" y1="420.2" x2="139.65" y2="455.8" stroke="#4a4a4a" stroke-width="1.1" />
<line x1="139.65" y1="488.6" x2="139.65" y2="505.4" stroke="#4a4a4a" stroke-width="1.1" />
<rect x="119.2" y="455.8" width="40.9" height="32.8" fill="#29A8E0"/>
<line x1="119.2" y1="472.3" x2="160.1" y2="472.3" stroke="rgba(0,0,0,0.72)" stroke-width="1.15" />
<circle cx="137.7" cy="420.2" r="0.95" fill="rgba(0,0,0,0.8)"/>
<circle cx="135.6" cy="430.4" r="0.95" fill="rgba(0,0,0,0.8)"/>
<circle cx="151.2" cy="427.5" r="0.95" fill="rgba(0,0,0,0.8)"/>
<circle cx="129.4" cy="443.8" r="0.95" fill="rgba(0,0,0,0.8)"/>
<circle cx="130" cy="454.8" r="0.95" fill="rgba(0,0,0,0.8)"/>
<circle cx="132.3" cy="454.8" r="0.95" fill="rgba(0,0,0,0.8)"/>
<circle cx="143.3" cy="458.3" r="0.95" fill="rgba(0,0,0,0.8)"/>
<circle cx="134.2" cy="469.2" r="0.95" fill="rgba(0,0,0,0.8)"/>
<circle cx="138.7" cy="467.9" r="0.95" fill="rgba(0,0,0,0.8)"/>
<circle cx="144.8" cy="470.6" r="0.95" fill="rgba(0,0,0,0.8)"/>
<circle cx="147.7" cy="471.5" r="0.95" fill="rgba(0,0,0,0.8)"/>
<circle cx="153.1" cy="471.5" r="0.95" fill="rgba(0,0,0,0.8)"/>
<circle cx="134.2" cy="474" r="0.95" fill="rgba(0,0,0,0.8)"/>
<circle cx="137.1" cy="476.3" r="0.95" fill="rgba(0,0,0,0.8)"/>
<circle cx="132.7" cy="478.5" r="0.95" fill="rgba(0,0,0,0.8)"/>
<circle cx="130.4" cy="488.8" r="0.95" fill="rgba(0,0,0,0.8)"/>
<circle cx="133.8" cy="489" r="0.95" fill="rgba(0,0,0,0.8)"/>
<circle cx="140" cy="488.5" r="0.95" fill="rgba(0,0,0,0.8)"/>
<circle cx="148.7" cy="488.8" r="0.95" fill="rgba(0,0,0,0.8)"/>
<circle cx="134.4" cy="493.6" r="0.95" fill="rgba(0,0,0,0.8)"/>
<circle cx="151.2" cy="493.7" r="0.95" fill="rgba(0,0,0,0.8)"/>
<circle cx="135.2" cy="497" r="0.95" fill="rgba(0,0,0,0.8)"/>
<circle cx="145.7" cy="505.4" r="0.95" fill="rgba(0,0,0,0.8)"/>
<line x1="195.15" y1="413.8" x2="195.15" y2="458.8" stroke="#4a4a4a" stroke-width="1.1" />
<line x1="195.15" y1="492" x2="195.15" y2="503.5" stroke="#4a4a4a" stroke-width="1.1" />
<rect x="174.5" y="458.8" width="41.3" height="33.2" fill="#C8102E"/>
<line x1="174.5" y1="477.1" x2="215.8" y2="477.1" stroke="rgba(0,0,0,0.72)" stroke-width="1.15" />
<circle cx="181.9" cy="413.8" r="0.95" fill="rgba(0,0,0,0.8)"/>
<circle cx="203.1" cy="440.4" r="0.95" fill="rgba(0,0,0,0.8)"/>
<circle cx="205.8" cy="449" r="0.95" fill="rgba(0,0,0,0.8)"/>
<circle cx="201.2" cy="457.3" r="0.95" fill="rgba(0,0,0,0.8)"/>
<circle cx="188.1" cy="464.4" r="0.95" fill="rgba(0,0,0,0.8)"/>
<circle cx="187.1" cy="469.2" r="0.95" fill="rgba(0,0,0,0.8)"/>
<circle cx="209.2" cy="473.1" r="0.95" fill="rgba(0,0,0,0.8)"/>
<circle cx="203.1" cy="484" r="0.95" fill="rgba(0,0,0,0.8)"/>
<circle cx="188.4" cy="495" r="0.95" fill="rgba(0,0,0,0.8)"/>
<circle cx="197.6" cy="495" r="0.95" fill="rgba(0,0,0,0.8)"/>
<circle cx="201.5" cy="501.2" r="0.95" fill="rgba(0,0,0,0.8)"/>
<circle cx="200.8" cy="503.5" r="0.95" fill="rgba(0,0,0,0.8)"/>
<line x1="269.5" y1="374.2" x2="269.5" y2="512" stroke="#111" stroke-width="1.2" />
<line x1="269" y1="511.5" x2="449.5" y2="511.5" stroke="#111" stroke-width="1.2" />
<line x1="266.3" y1="382.9" x2="269.5" y2="382.9" stroke="#111" stroke-width="1.1" />
<text x="263.3" y="385.9" font-size="9" text-anchor="end" fill="#222" font-weight="normal" >20</text>
<line x1="266.3" y1="416.2" x2="269.5" y2="416.2" stroke="#111" stroke-width="1.1" />
<text x="263.3" y="419.2" font-size="9" text-anchor="end" fill="#222" font-weight="normal" >15</text>
<line x1="266.3" y1="449.5" x2="269.5" y2="449.5" stroke="#111" stroke-width="1.1" />
<text x="263.3" y="452.5" font-size="9" text-anchor="end" fill="#222" font-weight="normal" >10</text>
<line x1="266.3" y1="482.8" x2="269.5" y2="482.8" stroke="#111" stroke-width="1.1" />
<text x="263.3" y="485.8" font-size="9" text-anchor="end" fill="#222" font-weight="normal" >5</text>
<line x1="302.8" y1="511.5" x2="302.8" y2="514.5" stroke="#111" stroke-width="1.0" />
<text x="302.8" y="525.9" font-size="8.5" text-anchor="middle" fill="#222" font-weight="normal" class="l" >Patch</text>
<line x1="359.5" y1="511.5" x2="359.5" y2="514.5" stroke="#111" stroke-width="1.0" />
<text x="359.5" y="525.9" font-size="8.5" text-anchor="middle" fill="#222" font-weight="normal" class="l" >Plaque</text>
<line x1="415.8" y1="511.5" x2="415.8" y2="514.5" stroke="#111" stroke-width="1.0" />
<text x="415.8" y="525.9" font-size="8.5" text-anchor="middle" fill="#222" font-weight="normal" class="l" >Tumor</text>
<text transform="translate(247.28,442.9) rotate(-90)" x="0" y="0" font-size="10.5" text-anchor="middle" fill="#222" font-weight="normal" textLength="12.1" lengthAdjust="spacingAndGlyphs" style="stroke-width:0.55px">FAP</text>
<path d="M302.6 382.4V379.6H415.7V382.4" fill="none" stroke="#555" stroke-width="1"/>
<text x="358.8" y="376" font-size="8.5" text-anchor="middle" fill="#222" font-weight="normal" class="l" >0.05</text>
<path d="M359.4 395.1V392.3H415.7V395.1" fill="none" stroke="#555" stroke-width="1"/>
<text x="387.6" y="389" font-size="8.5" text-anchor="middle" fill="#222" font-weight="normal" class="l" >0.16</text>
<path d="M302.6 406.7V403.9H359.4V406.7" fill="none" stroke="#555" stroke-width="1"/>
<text x="331" y="400.4" font-size="8.5" text-anchor="middle" fill="#222" font-weight="normal" class="l" >0.37</text>
<line x1="303.1" y1="420.6" x2="303.1" y2="461.7" stroke="#4a4a4a" stroke-width="1.1" />
<line x1="303.1" y1="492" x2="303.1" y2="504.8" stroke="#4a4a4a" stroke-width="1.1" />
<rect x="282.4" y="461.7" width="41.4" height="30.3" fill="#F39200"/>
<line x1="282.4" y1="480.2" x2="323.8" y2="480.2" stroke="rgba(0,0,0,0.72)" stroke-width="1.15" />
<circle cx="303.1" cy="420.8" r="0.95" fill="rgba(0,0,0,0.8)"/>
<circle cx="308.1" cy="420.8" r="0.95" fill="rgba(0,0,0,0.8)"/>
<circle cx="294.2" cy="444.6" r="0.95" fill="rgba(0,0,0,0.8)"/>
<circle cx="293.3" cy="452.8" r="0.95" fill="rgba(0,0,0,0.8)"/>
<circle cx="304.7" cy="452.8" r="0.95" fill="rgba(0,0,0,0.8)"/>
<circle cx="300.3" cy="458.9" r="0.95" fill="rgba(0,0,0,0.8)"/>
<circle cx="294.9" cy="461.5" r="0.95" fill="rgba(0,0,0,0.8)"/>
<circle cx="290.5" cy="468.3" r="0.95" fill="rgba(0,0,0,0.8)"/>
<circle cx="295.2" cy="468.3" r="0.95" fill="rgba(0,0,0,0.8)"/>
<circle cx="298.7" cy="473.7" r="0.95" fill="rgba(0,0,0,0.8)"/>
<circle cx="297.6" cy="478" r="0.95" fill="rgba(0,0,0,0.8)"/>
<circle cx="308.1" cy="480.2" r="0.95" fill="rgba(0,0,0,0.8)"/>
<circle cx="313.7" cy="480.2" r="0.95" fill="rgba(0,0,0,0.8)"/>
<circle cx="288.8" cy="488.7" r="0.95" fill="rgba(0,0,0,0.8)"/>
<circle cx="294.9" cy="491.9" r="0.95" fill="rgba(0,0,0,0.8)"/>
<circle cx="297.6" cy="492.3" r="0.95" fill="rgba(0,0,0,0.8)"/>
<circle cx="303.9" cy="492.3" r="0.95" fill="rgba(0,0,0,0.8)"/>
<circle cx="311.3" cy="492.3" r="0.95" fill="rgba(0,0,0,0.8)"/>
<circle cx="290.6" cy="495.7" r="0.95" fill="rgba(0,0,0,0.8)"/>
<circle cx="300.3" cy="496.7" r="0.95" fill="rgba(0,0,0,0.8)"/>
<circle cx="317.1" cy="496.7" r="0.95" fill="rgba(0,0,0,0.8)"/>
<circle cx="309.4" cy="500" r="0.95" fill="rgba(0,0,0,0.8)"/>
<circle cx="311.5" cy="502.8" r="0.95" fill="rgba(0,0,0,0.8)"/>
<circle cx="303" cy="504.8" r="0.95" fill="rgba(0,0,0,0.8)"/>
<line x1="359.45" y1="428.8" x2="359.45" y2="460" stroke="#4a4a4a" stroke-width="1.1" />
<line x1="359.45" y1="483.6" x2="359.45" y2="505.3" stroke="#4a4a4a" stroke-width="1.1" />
<rect x="338.9" y="460" width="41.1" height="23.6" fill="#29A8E0"/>
<line x1="338.9" y1="475.1" x2="380" y2="475.1" stroke="rgba(0,0,0,0.72)" stroke-width="1.15" />
<circle cx="348.3" cy="408.7" r="0.95" fill="rgba(0,0,0,0.8)"/>
<circle cx="359.4" cy="408.7" r="0.95" fill="rgba(0,0,0,0.8)"/>
<circle cx="369.6" cy="428.8" r="0.95" fill="rgba(0,0,0,0.8)"/>
<circle cx="350.8" cy="446.2" r="0.95" fill="rgba(0,0,0,0.8)"/>
<circle cx="352.1" cy="448.7" r="0.95" fill="rgba(0,0,0,0.8)"/>
<circle cx="369.8" cy="446.7" r="0.95" fill="rgba(0,0,0,0.8)"/>
<circle cx="366.5" cy="454.8" r="0.95" fill="rgba(0,0,0,0.8)"/>
<circle cx="351.2" cy="458.3" r="0.95" fill="rgba(0,0,0,0.8)"/>
<circle cx="364.2" cy="462.9" r="0.95" fill="rgba(0,0,0,0.8)"/>
<circle cx="360.8" cy="465" r="0.95" fill="rgba(0,0,0,0.8)"/>
<circle cx="358.8" cy="470.8" r="0.95" fill="rgba(0,0,0,0.8)"/>
<circle cx="366.5" cy="470.8" r="0.95" fill="rgba(0,0,0,0.8)"/>
<circle cx="370.4" cy="472.1" r="0.95" fill="rgba(0,0,0,0.8)"/>
<circle cx="363.1" cy="475.4" r="0.95" fill="rgba(0,0,0,0.8)"/>
<circle cx="353.1" cy="477.9" r="0.95" fill="rgba(0,0,0,0.8)"/>
<circle cx="352.7" cy="479.2" r="0.95" fill="rgba(0,0,0,0.8)"/>
<circle cx="346.3" cy="481.2" r="0.95" fill="rgba(0,0,0,0.8)"/>
<circle cx="362.7" cy="480.8" r="0.95" fill="rgba(0,0,0,0.8)"/>
<circle cx="369" cy="482.3" r="0.95" fill="rgba(0,0,0,0.8)"/>
<circle cx="356.9" cy="484.6" r="0.95" fill="rgba(0,0,0,0.8)"/>
<circle cx="361.2" cy="486.2" r="0.95" fill="rgba(0,0,0,0.8)"/>
<circle cx="346" cy="489.4" r="0.95" fill="rgba(0,0,0,0.8)"/>
<circle cx="354" cy="491" r="0.95" fill="rgba(0,0,0,0.8)"/>
<circle cx="360.2" cy="492.7" r="0.95" fill="rgba(0,0,0,0.8)"/>
<circle cx="355" cy="496.7" r="0.95" fill="rgba(0,0,0,0.8)"/>
<circle cx="370.4" cy="505.3" r="0.95" fill="rgba(0,0,0,0.8)"/>
<line x1="415.9" y1="427.3" x2="415.9" y2="448.1" stroke="#4a4a4a" stroke-width="1.1" />
<line x1="415.9" y1="473.2" x2="415.9" y2="492.2" stroke="#4a4a4a" stroke-width="1.1" />
<rect x="395.2" y="448.1" width="41.4" height="25.1" fill="#C8102E"/>
<line x1="395.2" y1="463.1" x2="436.6" y2="463.1" stroke="rgba(0,0,0,0.72)" stroke-width="1.15" />
<circle cx="407.5" cy="427.3" r="0.95" fill="rgba(0,0,0,0.8)"/>
<circle cx="426.2" cy="446.2" r="0.95" fill="rgba(0,0,0,0.8)"/>
<circle cx="428.1" cy="444.6" r="0.95" fill="rgba(0,0,0,0.8)"/>
<circle cx="404" cy="461.2" r="0.95" fill="rgba(0,0,0,0.8)"/>
<circle cx="403.1" cy="468.3" r="0.95" fill="rgba(0,0,0,0.8)"/>
<circle cx="411.2" cy="466.9" r="0.95" fill="rgba(0,0,0,0.8)"/>
<circle cx="404.6" cy="474" r="0.95" fill="rgba(0,0,0,0.8)"/>
<circle cx="416.5" cy="486" r="0.95" fill="rgba(0,0,0,0.8)"/>
<circle cx="425.6" cy="488.1" r="0.95" fill="rgba(0,0,0,0.8)"/>
<circle cx="417.5" cy="491.9" r="0.95" fill="rgba(0,0,0,0.8)"/>
<line x1="455.6" y1="375.7" x2="455.6" y2="382.5" stroke="#666" stroke-width="0.9" />
<rect x="452.9" y="377" width="5.4" height="4.2" fill="#F39200" stroke="rgba(0,0,0,0.25)" stroke-width="0.5"/>
<line x1="452.9" y1="379.1" x2="458.3" y2="379.1" stroke="rgba(0,0,0,0.7)" stroke-width="0.9" />
<text x="462.8" y="382.1" font-size="8.5" text-anchor="start" fill="#222" font-weight="normal" class="l" >Patch</text>
<line x1="455.6" y1="388.3" x2="455.6" y2="395.1" stroke="#666" stroke-width="0.9" />
<rect x="452.9" y="389.6" width="5.4" height="4.2" fill="#29A8E0" stroke="rgba(0,0,0,0.25)" stroke-width="0.5"/>
<line x1="452.9" y1="391.7" x2="458.3" y2="391.7" stroke="rgba(0,0,0,0.7)" stroke-width="0.9" />
<text x="462.8" y="394.7" font-size="8.5" text-anchor="start" fill="#222" font-weight="normal" class="l" >Plaque</text>
<line x1="455.6" y1="400.9" x2="455.6" y2="407.7" stroke="#666" stroke-width="0.9" />
<rect x="452.9" y="402.2" width="5.4" height="4.2" fill="#C8102E" stroke="rgba(0,0,0,0.25)" stroke-width="0.5"/>
<line x1="452.9" y1="404.3" x2="458.3" y2="404.3" stroke="rgba(0,0,0,0.7)" stroke-width="0.9" />
<text x="462.8" y="407.3" font-size="8.5" text-anchor="start" fill="#222" font-weight="normal" class="l" >Tumor</text>
<line x1="50.5" y1="565.2" x2="50.5" y2="701" stroke="#111" stroke-width="1.2" />
<line x1="50" y1="700.5" x2="228.5" y2="700.5" stroke="#111" stroke-width="1.2" />
<line x1="47.3" y1="592.1" x2="50.5" y2="592.1" stroke="#111" stroke-width="1.1" />
<text x="44.3" y="595.1" font-size="9" text-anchor="end" fill="#222" font-weight="normal" >20</text>
<line x1="47.3" y1="620.6" x2="50.5" y2="620.6" stroke="#111" stroke-width="1.1" />
<text x="44.3" y="623.6" font-size="9" text-anchor="end" fill="#222" font-weight="normal" >15</text>
<line x1="47.3" y1="649.1" x2="50.5" y2="649.1" stroke="#111" stroke-width="1.1" />
<text x="44.3" y="652.1" font-size="9" text-anchor="end" fill="#222" font-weight="normal" >10</text>
<line x1="47.3" y1="677.6" x2="50.5" y2="677.6" stroke="#111" stroke-width="1.1" />
<text x="44.3" y="680.6" font-size="9" text-anchor="end" fill="#222" font-weight="normal" >5</text>
<line x1="83.6" y1="700.5" x2="83.6" y2="703.5" stroke="#111" stroke-width="1.0" />
<text x="83.6" y="714.9" font-size="8.5" text-anchor="middle" fill="#222" font-weight="normal" class="l" >Patch</text>
<line x1="139.4" y1="700.5" x2="139.4" y2="703.5" stroke="#111" stroke-width="1.0" />
<text x="139.4" y="714.9" font-size="8.5" text-anchor="middle" fill="#222" font-weight="normal" class="l" >Plaque</text>
<line x1="195.2" y1="700.5" x2="195.2" y2="703.5" stroke="#111" stroke-width="1.0" />
<text x="195.2" y="714.9" font-size="8.5" text-anchor="middle" fill="#222" font-weight="normal" class="l" >Tumor</text>
<text transform="translate(28.38,633) rotate(-90)" x="0" y="0" font-size="10.5" text-anchor="middle" fill="#222" font-weight="normal" textLength="16.9" lengthAdjust="spacingAndGlyphs" style="stroke-width:0.55px">LAG3</text>
<path d="M83.4 572.4V569.6H194.4V572.4" fill="none" stroke="#555" stroke-width="1"/>
<text x="138.7" y="566" font-size="8.5" text-anchor="middle" fill="#222" font-weight="normal" class="l" >0.17</text>
<path d="M139.3 585.1V582.3H194.4V585.1" fill="none" stroke="#555" stroke-width="1"/>
<text x="166.9" y="578.9" font-size="8.5" text-anchor="middle" fill="#222" font-weight="normal" class="l" >0.43</text>
<path d="M83.4 596.6V593.8H139.3V596.6" fill="none" stroke="#555" stroke-width="1"/>
<text x="111.3" y="590.4" font-size="8.5" text-anchor="middle" fill="#222" font-weight="normal" class="l" >1</text>
<line x1="83.9" y1="625" x2="83.9" y2="645.7" stroke="#4a4a4a" stroke-width="1.1" />
<line x1="83.9" y1="676.5" x2="83.9" y2="685.8" stroke="#4a4a4a" stroke-width="1.1" />
<rect x="63.3" y="645.7" width="41.2" height="30.8" fill="#F39200"/>
<line x1="63.3" y1="659.7" x2="104.5" y2="659.7" stroke="rgba(0,0,0,0.72)" stroke-width="1.15" />
<circle cx="90.9" cy="624.8" r="0.95" fill="rgba(0,0,0,0.8)"/>
<circle cx="84.9" cy="638.6" r="0.95" fill="rgba(0,0,0,0.8)"/>
<circle cx="81" cy="645.7" r="0.95" fill="rgba(0,0,0,0.8)"/>
<circle cx="94" cy="654.7" r="0.95" fill="rgba(0,0,0,0.8)"/>
<circle cx="70.1" cy="659.8" r="0.95" fill="rgba(0,0,0,0.8)"/>
<circle cx="73.8" cy="675.8" r="0.95" fill="rgba(0,0,0,0.8)"/>
<circle cx="91.3" cy="676.9" r="0.95" fill="rgba(0,0,0,0.8)"/>
<circle cx="76.9" cy="681.9" r="0.95" fill="rgba(0,0,0,0.8)"/>
<circle cx="74.5" cy="686.2" r="0.95" fill="rgba(0,0,0,0.8)"/>
<line x1="139.6" y1="630.4" x2="139.6" y2="648.3" stroke="#4a4a4a" stroke-width="1.1" />
<line x1="139.6" y1="680.7" x2="139.6" y2="695.7" stroke="#4a4a4a" stroke-width="1.1" />
<rect x="119.2" y="648.3" width="40.8" height="32.4" fill="#29A8E0"/>
<line x1="119.2" y1="651.7" x2="160" y2="651.7" stroke="rgba(0,0,0,0.72)" stroke-width="1.15" />
<circle cx="139.2" cy="630.4" r="0.95" fill="rgba(0,0,0,0.8)"/>
<circle cx="135.8" cy="639.2" r="0.95" fill="rgba(0,0,0,0.8)"/>
<circle cx="142.2" cy="648.2" r="0.95" fill="rgba(0,0,0,0.8)"/>
<circle cx="144.5" cy="648.2" r="0.95" fill="rgba(0,0,0,0.8)"/>
<circle cx="140.8" cy="657.4" r="0.95" fill="rgba(0,0,0,0.8)"/>
<circle cx="131.8" cy="680.7" r="0.95" fill="rgba(0,0,0,0.8)"/>
<circle cx="145.7" cy="689.7" r="0.95" fill="rgba(0,0,0,0.8)"/>
<circle cx="146.2" cy="695" r="0.95" fill="rgba(0,0,0,0.8)"/>
<line x1="195.05" y1="658.8" x2="195.05" y2="675" stroke="#4a4a4a" stroke-width="1.1" />
<rect x="174.3" y="645" width="41.5" height="13.8" fill="#C8102E"/>
<line x1="174.3" y1="650.3" x2="215.8" y2="650.3" stroke="rgba(0,0,0,0.72)" stroke-width="1.15" />
<circle cx="190.6" cy="599" r="0.95" fill="rgba(0,0,0,0.8)"/>
<circle cx="194.3" cy="599" r="0.95" fill="rgba(0,0,0,0.8)"/>
<circle cx="189.6" cy="618.9" r="0.95" fill="rgba(0,0,0,0.8)"/>
<circle cx="194.8" cy="618.9" r="0.95" fill="rgba(0,0,0,0.8)"/>
<circle cx="194.8" cy="623.3" r="0.95" fill="rgba(0,0,0,0.8)"/>
<circle cx="204.8" cy="623.3" r="0.95" fill="rgba(0,0,0,0.8)"/>
<circle cx="193.3" cy="644.6" r="0.95" fill="rgba(0,0,0,0.8)"/>
<circle cx="198.5" cy="644.6" r="0.95" fill="rgba(0,0,0,0.8)"/>
<circle cx="185.4" cy="646.5" r="0.95" fill="rgba(0,0,0,0.8)"/>
<circle cx="184" cy="659" r="0.95" fill="rgba(0,0,0,0.8)"/>
<circle cx="198.5" cy="659" r="0.95" fill="rgba(0,0,0,0.8)"/>
<circle cx="198.1" cy="661.6" r="0.95" fill="rgba(0,0,0,0.8)"/>
<circle cx="195.2" cy="664.8" r="0.95" fill="rgba(0,0,0,0.8)"/>
<circle cx="203.4" cy="675" r="0.95" fill="rgba(0,0,0,0.8)"/>
<line x1="269.5" y1="565.2" x2="269.5" y2="701" stroke="#111" stroke-width="1.2" />
<line x1="269" y1="700.5" x2="449.2" y2="700.5" stroke="#111" stroke-width="1.2" />
<line x1="266.3" y1="586.9" x2="269.5" y2="586.9" stroke="#111" stroke-width="1.1" />
<text x="263.3" y="589.9" font-size="9" text-anchor="end" fill="#222" font-weight="normal" >15</text>
<line x1="266.3" y1="626.8" x2="269.5" y2="626.8" stroke="#111" stroke-width="1.1" />
<text x="263.3" y="629.8" font-size="9" text-anchor="end" fill="#222" font-weight="normal" >10</text>
<line x1="266.3" y1="666.4" x2="269.5" y2="666.4" stroke="#111" stroke-width="1.1" />
<text x="263.3" y="669.4" font-size="9" text-anchor="end" fill="#222" font-weight="normal" >5</text>
<line x1="301.8" y1="700.5" x2="301.8" y2="703.5" stroke="#111" stroke-width="1.0" />
<text x="301.8" y="714.9" font-size="8.5" text-anchor="middle" fill="#222" font-weight="normal" class="l" >Patch</text>
<line x1="355.9" y1="700.5" x2="355.9" y2="703.5" stroke="#111" stroke-width="1.0" />
<text x="355.9" y="714.9" font-size="8.5" text-anchor="middle" fill="#222" font-weight="normal" class="l" >Plaque</text>
<line x1="410" y1="700.5" x2="410" y2="703.5" stroke="#111" stroke-width="1.0" />
<text x="410" y="714.9" font-size="8.5" text-anchor="middle" fill="#222" font-weight="normal" class="l" >Tumor</text>
<text transform="translate(247.18,633) rotate(-90)" x="0" y="0" font-size="10.5" text-anchor="middle" fill="#222" font-weight="normal" textLength="18.5" lengthAdjust="spacingAndGlyphs" style="stroke-width:0.55px">TIM-3</text>
<path d="M301.6 572.3V569.5H409.8V572.3" fill="none" stroke="#555" stroke-width="1"/>
<text x="355.5" y="566.1" font-size="8.5" text-anchor="middle" fill="#222" font-weight="normal" class="l" >0.1</text>
<path d="M355.8 585.2V582.4H409.8V585.2" fill="none" stroke="#555" stroke-width="1"/>
<text x="382.8" y="578.8" font-size="8.5" text-anchor="middle" fill="#222" font-weight="normal" class="l" >0.025</text>
<path d="M301.6 596.7V593.9H355.8V596.7" fill="none" stroke="#555" stroke-width="1"/>
<text x="328.5" y="590.6" font-size="8.5" text-anchor="middle" fill="#222" font-weight="normal" class="l" >0.51</text>
<line x1="301.95" y1="607" x2="301.95" y2="641.3" stroke="#4a4a4a" stroke-width="1.1" />
<line x1="301.95" y1="664.5" x2="301.95" y2="694.8" stroke="#4a4a4a" stroke-width="1.1" />
<rect x="282.1" y="641.3" width="39.7" height="23.2" fill="#F39200"/>
<line x1="282.1" y1="649.4" x2="321.8" y2="649.4" stroke="rgba(0,0,0,0.72)" stroke-width="1.15" />
<circle cx="307.1" cy="607" r="0.95" fill="rgba(0,0,0,0.8)"/>
<circle cx="307.8" cy="621.1" r="0.95" fill="rgba(0,0,0,0.8)"/>
<circle cx="290.3" cy="641.3" r="0.95" fill="rgba(0,0,0,0.8)"/>
<circle cx="292.6" cy="649.4" r="0.95" fill="rgba(0,0,0,0.8)"/>
<circle cx="305.4" cy="649.4" r="0.95" fill="rgba(0,0,0,0.8)"/>
<circle cx="300.9" cy="658.3" r="0.95" fill="rgba(0,0,0,0.8)"/>
<circle cx="309.4" cy="664.9" r="0.95" fill="rgba(0,0,0,0.8)"/>
<circle cx="306.8" cy="668.3" r="0.95" fill="rgba(0,0,0,0.8)"/>
<circle cx="312.1" cy="694.8" r="0.95" fill="rgba(0,0,0,0.8)"/>
<line x1="356" y1="668.1" x2="356" y2="683.4" stroke="#4a4a4a" stroke-width="1.1" />
<rect x="335.9" y="656.6" width="40.2" height="11.5" fill="#29A8E0"/>
<line x1="335.9" y1="657" x2="376.1" y2="657" stroke="rgba(0,0,0,0.72)" stroke-width="1.15" />
<circle cx="355.9" cy="608.7" r="0.95" fill="rgba(0,0,0,0.8)"/>
<circle cx="352.6" cy="623.7" r="0.95" fill="rgba(0,0,0,0.8)"/>
<circle cx="355.8" cy="623.7" r="0.95" fill="rgba(0,0,0,0.8)"/>
<circle cx="344.4" cy="656.7" r="0.95" fill="rgba(0,0,0,0.8)"/>
<circle cx="363.8" cy="656.7" r="0.95" fill="rgba(0,0,0,0.8)"/>
<circle cx="367" cy="656.7" r="0.95" fill="rgba(0,0,0,0.8)"/>
<circle cx="353.3" cy="665.6" r="0.95" fill="rgba(0,0,0,0.8)"/>
<circle cx="361.3" cy="668.1" r="0.95" fill="rgba(0,0,0,0.8)"/>
<circle cx="344.4" cy="683.1" r="0.95" fill="rgba(0,0,0,0.8)"/>
<circle cx="363.4" cy="683.1" r="0.95" fill="rgba(0,0,0,0.8)"/>
<line x1="410.05" y1="599" x2="410.05" y2="623.3" stroke="#4a4a4a" stroke-width="1.1" />
<line x1="410.05" y1="644" x2="410.05" y2="662.4" stroke="#4a4a4a" stroke-width="1.1" />
<rect x="390.3" y="623.3" width="39.5" height="20.7" fill="#C8102E"/>
<line x1="390.3" y1="633.8" x2="429.8" y2="633.8" stroke="rgba(0,0,0,0.72)" stroke-width="1.15" />
<circle cx="399.6" cy="598.8" r="0.95" fill="rgba(0,0,0,0.8)"/>
<circle cx="404.4" cy="608.6" r="0.95" fill="rgba(0,0,0,0.8)"/>
<circle cx="398.3" cy="622.2" r="0.95" fill="rgba(0,0,0,0.8)"/>
<circle cx="401.9" cy="621.2" r="0.95" fill="rgba(0,0,0,0.8)"/>
<circle cx="420.5" cy="623.3" r="0.95" fill="rgba(0,0,0,0.8)"/>
<circle cx="405.1" cy="627.1" r="0.95" fill="rgba(0,0,0,0.8)"/>
<circle cx="415.7" cy="627.9" r="0.95" fill="rgba(0,0,0,0.8)"/>
<circle cx="405.7" cy="639.1" r="0.95" fill="rgba(0,0,0,0.8)"/>
<circle cx="414.2" cy="639.6" r="0.95" fill="rgba(0,0,0,0.8)"/>
<circle cx="416.7" cy="645.5" r="0.95" fill="rgba(0,0,0,0.8)"/>
<circle cx="417.2" cy="656.1" r="0.95" fill="rgba(0,0,0,0.8)"/>
<circle cx="416.7" cy="659.9" r="0.95" fill="rgba(0,0,0,0.8)"/>
<circle cx="398.8" cy="662.4" r="0.95" fill="rgba(0,0,0,0.8)"/>
<line x1="455.7" y1="566.3" x2="455.7" y2="573.1" stroke="#666" stroke-width="0.9" />
<rect x="453" y="567.6" width="5.4" height="4.2" fill="#F39200" stroke="rgba(0,0,0,0.25)" stroke-width="0.5"/>
<line x1="453" y1="569.7" x2="458.4" y2="569.7" stroke="rgba(0,0,0,0.7)" stroke-width="0.9" />
<text x="462.9" y="572.7" font-size="8.5" text-anchor="start" fill="#222" font-weight="normal" class="l" >Patch</text>
<line x1="455.7" y1="578.9" x2="455.7" y2="585.7" stroke="#666" stroke-width="0.9" />
<rect x="453" y="580.2" width="5.4" height="4.2" fill="#29A8E0" stroke="rgba(0,0,0,0.25)" stroke-width="0.5"/>
<line x1="453" y1="582.3" x2="458.4" y2="582.3" stroke="rgba(0,0,0,0.7)" stroke-width="0.9" />
<text x="462.9" y="585.3" font-size="8.5" text-anchor="start" fill="#222" font-weight="normal" class="l" >Plaque</text>
<line x1="455.7" y1="591.5" x2="455.7" y2="598.3" stroke="#666" stroke-width="0.9" />
<rect x="453" y="592.8" width="5.4" height="4.2" fill="#C8102E" stroke="rgba(0,0,0,0.25)" stroke-width="0.5"/>
<line x1="453" y1="594.9" x2="458.4" y2="594.9" stroke="rgba(0,0,0,0.7)" stroke-width="0.9" />
<text x="462.9" y="597.9" font-size="8.5" text-anchor="start" fill="#222" font-weight="normal" class="l" >Tumor</text>
</svg></body></html>
